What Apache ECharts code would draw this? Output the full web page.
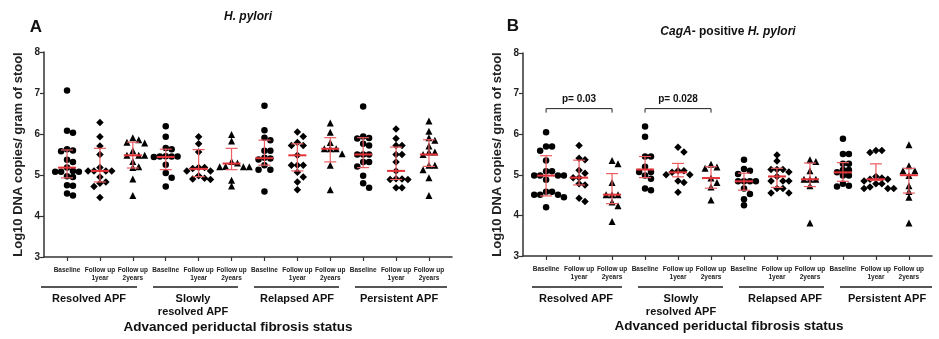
<!DOCTYPE html>
<html>
<head>
<meta charset="utf-8">
<script src="https://cdn.jsdelivr.net/npm/echarts@6/dist/echarts.min.js"></script>
<style>
  html, body { margin: 0; padding: 0; background: #fff; }
  #chart { width: 939px; height: 339px; }
</style>
</head>
<body>
<div id="chart"></div>
<script>
// categories
const timeLabels = ['Baseline', 'Follow up\n1year', 'Follow up\n2years'];
const groupLabels = ['Resolved APF', 'Slowly\nresolved APF', 'Relapsed APF', 'Persistent APF'];

// panel A: H. pylori, log10 copies per category (4 groups x 3 time points)
const hpValues = [
  [7.06, 6.08, 6.03, 5.63, 5.60, 5.58, 5.37, 5.32, 5.18, 5.10, 5.08, 5.08, 5.08, 4.97, 4.95, 4.75, 4.74, 4.55, 4.50],
  [6.28, 5.93, 5.71, 5.50, 5.18, 5.10, 5.10, 5.10, 5.10, 4.95, 4.83, 4.80, 4.72, 4.45],
  [5.91, 5.86, 5.80, 5.78, 5.59, 5.48, 5.48, 5.48, 5.33, 5.20, 5.18, 4.90, 4.50],
  [6.19, 5.93, 5.66, 5.63, 5.46, 5.45, 5.45, 5.44, 5.45, 5.25, 5.05, 4.93, 4.72],
  [5.93, 5.76, 5.56, 5.18, 5.18, 5.16, 5.10, 5.10, 4.98, 4.92, 4.90, 4.89],
  [5.99, 5.83, 5.33, 5.29, 5.21, 5.20, 5.20, 5.20, 4.87, 4.73],
  [6.69, 6.09, 5.91, 5.85, 5.59, 5.59, 5.42, 5.40, 5.38, 5.24, 5.13, 5.13, 4.60],
  [6.05, 5.94, 5.79, 5.72, 5.72, 5.48, 5.24, 5.24, 5.24, 5.07, 4.95, 4.83, 4.64],
  [6.27, 6.04, 5.79, 5.64, 5.64, 5.64, 5.52, 5.24, 4.64],
  [6.67, 5.94, 5.90, 5.89, 5.76, 5.72, 5.50, 5.50, 5.50, 5.32, 5.32, 5.21, 4.98, 4.80, 4.69],
  [6.12, 5.89, 5.72, 5.72, 5.50, 5.50, 5.32, 5.10, 4.91, 4.90, 4.89, 4.89, 4.69, 4.69],
  [6.32, 6.07, 5.91, 5.85, 5.71, 5.56, 5.56, 5.50, 5.24, 5.24, 5.13, 4.93, 4.50]
];
const hpMedian = [5.18, 5.10, 5.48, 5.44, 5.15, 5.28, 5.41, 5.48, 5.64, 5.50, 5.10, 5.50];
const hpQ1     = [4.93, 4.83, 5.17, 5.13, 4.96, 5.13, 5.24, 5.10, 5.32, 5.18, 4.89, 5.21];
const hpQ3     = [5.61, 5.65, 5.80, 5.63, 5.62, 5.65, 5.85, 5.76, 5.91, 5.91, 5.68, 5.86];

// panel B: CagA-positive H. pylori
const cagValues = [
  [6.05, 5.70, 5.70, 5.59, 5.35, 5.09, 5.09, 4.98, 4.98, 4.98, 4.98, 4.88, 4.58, 4.58, 4.51, 4.51, 4.45, 4.51, 4.20],
  [5.72, 5.41, 5.37, 5.11, 5.04, 4.93, 4.93, 4.78, 4.75, 4.42, 4.34],
  [5.35, 5.27, 4.81, 4.51, 4.51, 4.51, 4.33, 4.24, 3.85],
  [6.19, 5.94, 5.45, 5.45, 5.20, 5.07, 5.07, 4.98, 4.90, 4.66, 4.62],
  [5.68, 5.56, 5.10, 5.10, 5.06, 5.00, 5.00, 4.85, 4.81, 4.57],
  [5.26, 5.19, 5.16, 4.92, 4.81, 4.70, 4.38],
  [5.37, 5.14, 5.10, 5.02, 4.84, 4.84, 4.84, 4.84, 4.66, 4.53, 4.40, 4.25],
  [5.49, 5.34, 5.13, 5.13, 5.13, 5.07, 4.96, 4.85, 4.85, 4.85, 4.66, 4.66, 4.55, 4.55],
  [5.37, 5.33, 5.10, 4.89, 4.89, 4.89, 4.73, 3.81],
  [5.89, 5.51, 5.51, 5.27, 5.27, 5.12, 5.12, 5.06, 4.98, 4.98, 4.78, 4.73, 4.71],
  [5.60, 5.60, 5.55, 4.96, 4.92, 4.89, 4.89, 4.85, 4.78, 4.78, 4.70, 4.66, 4.66, 4.66],
  [5.74, 5.22, 5.10, 5.10, 4.98, 4.73, 4.59, 4.45, 3.81]
];
const cagMedian = [4.98, 4.93, 4.51, 5.13, 5.06, 4.92, 4.84, 4.96, 4.89, 5.06, 4.89, 4.99];
const cagQ1     = [4.48, 4.75, 4.29, 4.93, 4.95, 4.67, 4.62, 4.69, 4.71, 4.84, 4.86, 4.55];
const cagQ3     = [5.47, 5.36, 5.03, 5.45, 5.28, 5.20, 5.04, 5.16, 5.29, 5.30, 5.27, 5.16];

// significance brackets on panel B
const cagBrackets = [
  { from: 0, to: 2, y: 6.63, label: 'p= 0.03' },
  { from: 3, to: 5, y: 6.63, label: 'p= 0.028' }
];

const FONT = 'Liberation Sans, Arial, sans-serif';
const symbols = ['circle', 'diamond', 'triangle'];
const symbolSizes = [6.5, 7.5, 7];
const medRed = '#e33238';
const barRed = '#ec5d62';

// simple beeswarm: spread points sideways when they would overlap
function swarm(values, c) {
  const pxX = 33, pxY = 41, step = 0.18, minDist = 5.4;
  const placed = [];
  values.slice().sort((a, b) => b - a).forEach(v => {
    for (let k = 0; k < 30; k++) {
      const off = (k % 2 ? 1 : -1) * Math.ceil(k / 2) * step;
      const ok = placed.every(p => Math.hypot((p[0] - c - off) * pxX, (p[1] - v) * pxY) >= minDist);
      if (ok) { placed.push([c + off, v]); break; }
    }
  });
  return placed;
}

function panelSeries(values, median, q1, q3, idx) {
  const out = [];
  for (let s = 0; s < 3; s++) {
    let data = [];
    values.forEach((vals, c) => { if (c % 3 === s) data = data.concat(swarm(vals, c)); });
    out.push({
      type: 'scatter', xAxisIndex: idx, yAxisIndex: idx,
      symbol: symbols[s], symbolSize: symbolSizes[s],
      itemStyle: { color: '#000', opacity: 1 }, data: data, z: 2, silent: true
    });
  }
  out.push({
    type: 'custom', xAxisIndex: idx, yAxisIndex: idx, z: 3, silent: true,
    data: median.map((m, c) => [c, m, q1[c], q3[c]]),
    renderItem: (params, api) => {
      const c = api.value(0);
      const med = api.coord([c, api.value(1)]);
      const lo = api.coord([c, api.value(2)]);
      const hi = api.coord([c, api.value(3)]);
      const thin = { stroke: barRed, lineWidth: 1.2 };
      return {
        type: 'group', children: [
          { type: 'line', shape: { x1: lo[0], y1: lo[1], x2: hi[0], y2: hi[1] }, style: thin },
          { type: 'line', shape: { x1: lo[0] - 6, y1: lo[1], x2: lo[0] + 6, y2: lo[1] }, style: thin },
          { type: 'line', shape: { x1: hi[0] - 6, y1: hi[1], x2: hi[0] + 6, y2: hi[1] }, style: thin },
          { type: 'line', shape: { x1: med[0] - 9, y1: med[1], x2: med[0] + 9, y2: med[1] }, style: { stroke: medRed, lineWidth: 2 } }
        ]
      };
    }
  });
  return out;
}

const bracketSeries = {
  type: 'custom', xAxisIndex: 1, yAxisIndex: 1, silent: true,
  data: cagBrackets.map(b => [b.from, b.to, b.y]),
  renderItem: (params, api) => {
    const a = api.coord([api.value(0), api.value(2)]);
    const b = api.coord([api.value(1), api.value(2)]);
    return {
      type: 'group', children: [
        { type: 'polyline', shape: { points: [[a[0], a[1] + 4], a, b, [b[0], b[1] + 4]] },
          style: { stroke: '#222', lineWidth: 1, fill: null } },
        { type: 'text', x: (a[0] + b[0]) / 2, y: a[1] - 4,
          style: { text: cagBrackets[params.dataIndex].label, font: 'bold 10px ' + FONT,
                   fill: '#111', align: 'center', verticalAlign: 'bottom' } }
      ]
    };
  }
};

const catTicks = [0, 1, 2, 3, 4, 5, 6, 7, 8, 9, 10, 11];
function xAxisOf(idx) {
  return {
    type: 'value', gridIndex: idx, min: -0.7, max: 11.7,
    splitLine: { show: false },
    axisLine: { show: true, onZero: false, lineStyle: { color: '#333', width: 1.5 } },
    axisTick: { show: true, customValues: catTicks, length: 4, lineStyle: { color: '#333', width: 1.2 } },
    axisLabel: {
      show: true, customValues: catTicks, margin: 9,
      formatter: v => timeLabels[Math.round(v) % 3],
      fontFamily: FONT, fontWeight: 'bold', fontSize: 6.5, lineHeight: 8, color: '#222'
    }
  };
}
function yAxisOf(idx) {
  return {
    type: 'value', gridIndex: idx, min: 3, max: 8, interval: 1,
    name: 'Log10 DNA copies/ gram of stool', nameLocation: 'middle', nameGap: 19,
    nameTextStyle: { fontFamily: FONT, fontWeight: 'bold', fontSize: 13, color: '#222' },
    splitLine: { show: false },
    axisLine: { show: true, onZero: false, lineStyle: { color: '#333', width: 1.5 } },
    axisTick: { show: true, length: 4, lineStyle: { color: '#333', width: 1.2 } },
    axisLabel: { margin: 4, fontFamily: FONT, fontWeight: 'bold', fontSize: 10, color: '#222' }
  };
}

function txt(x, y, text, font, extra) {
  return {
    type: 'text', x: x, y: y, silent: true,
    style: Object.assign({ text: text, font: font, fill: '#111', align: 'center', verticalAlign: 'middle' }, extra || {})
  };
}
function groupDecor(lines, centers) {
  const out = [];
  lines.forEach((l, i) => {
    out.push({ type: 'line', silent: true, shape: { x1: l[0], y1: 287, x2: l[1], y2: 287 },
               style: { stroke: '#555', lineWidth: 2 } });
    out.push(txt(centers[i], 292, groupLabels[i], 'bold 11px ' + FONT,
                 { verticalAlign: 'top', lineHeight: 13 }));
  });
  return out;
}

const graphics = [].concat(
  txt(36, 27, 'A', 'bold 17px ' + FONT),
  txt(248, 17, 'H. pylori', 'italic bold 12px ' + FONT),
  txt(238, 327, 'Advanced periductal fibrosis status', 'bold 13.5px ' + FONT),
  groupDecor([[41, 137], [153, 238], [254, 339], [355, 447]], [89, 193, 297, 399]),
  txt(513, 26, 'B', 'bold 17px ' + FONT),
  {
    type: 'text', x: 728, y: 32, silent: true,
    style: {
      text: '{i|CagA}{b|- positive }{i|H. pylori}', align: 'center', verticalAlign: 'middle',
      rich: {
        i: { fontFamily: FONT, fontStyle: 'italic', fontWeight: 'bold', fontSize: 12, fill: '#111' },
        b: { fontFamily: FONT, fontWeight: 'bold', fontSize: 12, fill: '#111' }
      }
    }
  },
  txt(729, 326, 'Advanced periductal fibrosis status', 'bold 13.5px ' + FONT),
  groupDecor([[532, 622], [638, 723], [739, 824], [840, 932]], [576, 681, 785, 887])
);

const chart = echarts.init(document.getElementById('chart'), null, { renderer: 'canvas' });
chart.setOption({
  animation: false,
  backgroundColor: '#fff',
  grid: [
    { left: 44, right: 487, top: 52, bottom: 82 },
    { left: 523, right: 7, top: 53, bottom: 83 }
  ],
  xAxis: [xAxisOf(0), xAxisOf(1)],
  yAxis: [yAxisOf(0), yAxisOf(1)],
  series: [].concat(
    panelSeries(hpValues, hpMedian, hpQ1, hpQ3, 0),
    panelSeries(cagValues, cagMedian, cagQ1, cagQ3, 1),
    [bracketSeries]
  ),
  graphic: graphics
});
</script>
</body>
</html>
